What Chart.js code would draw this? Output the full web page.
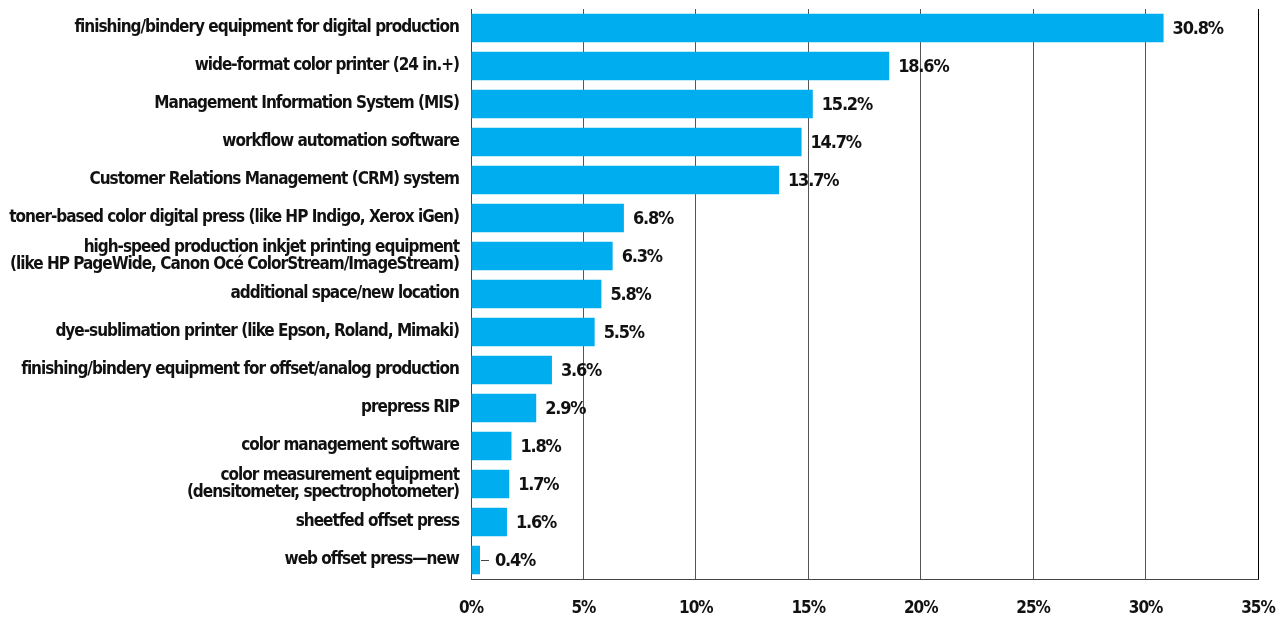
<!DOCTYPE html>
<html>

<head>
    <meta charset="utf-8">
    <title>Equipment purchase plans</title>
    <script src="https://cdn.jsdelivr.net/npm/chart.js@4.4.0/dist/chart.umd.min.js"></script>
    <style>
        html, body { margin: 0; padding: 0; background: #fff; }
        #wrap { width: 1284px; height: 618px; }
    </style>
</head>

<body>
    <div id="wrap">
        <canvas id="myChart" width="1284" height="618"></canvas>
    </div>
    <script>
        const FONT = "'Liberation Sans Narrow', 'DejaVu Sans Condensed', 'Roboto', sans-serif";

        const categories = [
            'finishing/bindery equipment for digital production',
            'wide-format color printer (24 in.+)',
            'Management Information System (MIS)',
            'workflow automation software',
            'Customer Relations Management (CRM) system',
            'toner-based color digital press (like HP Indigo, Xerox iGen)',
            ['high-speed production inkjet printing equipment', '(like HP PageWide, Canon Océ ColorStream/ImageStream)'],
            'additional space/new location',
            'dye-sublimation printer (like Epson, Roland, Mimaki)',
            'finishing/bindery equipment for offset/analog production',
            'prepress RIP',
            'color management software',
            ['color measurement equipment', '(densitometer, spectrophotometer)'],
            'sheetfed offset press',
            'web offset press\u2014new'
        ];
        const shares = [30.8, 18.6, 15.2, 14.7, 13.7, 6.8, 6.3, 5.8, 5.5, 3.6, 2.9, 1.8, 1.7, 1.6, 0.4];
        const xTicks = [0, 5, 10, 15, 20, 25, 30, 35];

        // the fallback font is wider than a true condensed face, so squeeze it a bit
        const tightText = {
            id: 'tightText',
            beforeDraw(chart) {
                chart.ctx.letterSpacing = '-1px';
            }
        };

        // percentage next to the end of each bar (small leader for tiny bars)
        const valueLabels = {
            id: 'valueLabels',
            afterDatasetsDraw(chart) {
                const ctx = chart.ctx;
                const meta = chart.getDatasetMeta(0);
                ctx.save();
                ctx.letterSpacing = '-1.2px';
                ctx.font = 'bold 18px ' + FONT;
                ctx.fillStyle = '#111';
                ctx.textBaseline = 'middle';
                ctx.textAlign = 'left';
                meta.data.forEach((bar, i) => {
                    const v = shares[i];
                    let x = bar.x + 9;
                    if (v < 1) {
                        ctx.strokeStyle = '#444';
                        ctx.lineWidth = 1;
                        ctx.beginPath();
                        ctx.moveTo(bar.x + 1, bar.y + 0.5);
                        ctx.lineTo(bar.x + 9, bar.y + 0.5);
                        ctx.stroke();
                        x = bar.x + 15;
                    }
                    ctx.fillText(v.toFixed(1) + '%', x, bar.y + 1);
                });
                ctx.restore();
            }
        };

        const ctx = document.getElementById('myChart');
        const myChart = new Chart(ctx, {
            type: 'bar',
            data: {
                labels: categories,
                datasets: [{
                    data: shares,
                    backgroundColor: '#00aeef',
                    borderWidth: 0,
                    barPercentage: 0.75,
                    categoryPercentage: 1.0
                }]
            },
            options: {
                indexAxis: 'y',
                responsive: false,
                animation: false,
                layout: { padding: { top: 9, right: 26, left: 0, bottom: 0 } },
                plugins: {
                    legend: { display: false },
                    tooltip: { enabled: false }
                },
                scales: {
                    x: {
                        min: 0,
                        max: 35,
                        afterBuildTicks(scale) {
                            scale.ticks = xTicks.map(v => ({ value: v }));
                        },
                        afterFit(scale) {
                            scale.height = 39;
                            scale.paddingLeft = 0;
                            scale.paddingRight = 0;
                        },
                        grid: {
                            drawTicks: false,
                            color: c => (c.tick && c.tick.value === 35 ? '#000' : '#555'),
                            lineWidth: 1
                        },
                        border: { display: true, color: '#444', width: 1 },
                        ticks: {
                            padding: 19,
                            color: '#111',
                            font: { family: FONT, size: 17, weight: 'bold' },
                            callback: v => v + '%'
                        }
                    },
                    y: {
                        afterFit(scale) {
                            scale.width = 471;
                            scale.paddingTop = 0;
                            scale.paddingBottom = 0;
                        },
                        grid: { display: false, drawTicks: false },
                        border: { display: true, color: '#444', width: 1 },
                        ticks: {
                            padding: 12,
                            color: '#111',
                            autoSkip: false,
                            font: { family: FONT, size: 17, weight: 'bold', lineHeight: 1.02 }
                        }
                    }
                }
            },
            plugins: [tightText, valueLabels]
        });
    </script>
</body>

</html>
